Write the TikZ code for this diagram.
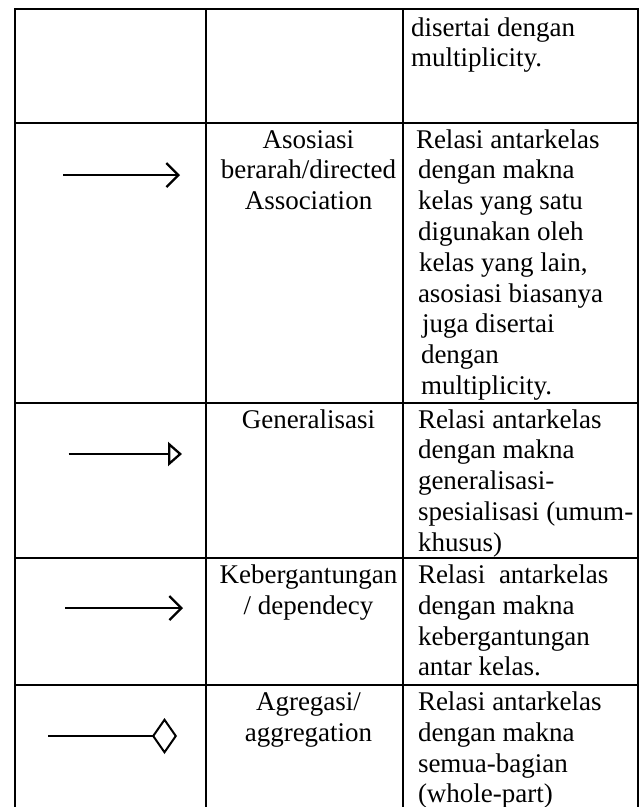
\documentclass[tikz,border=0pt]{standalone}
\usepackage{fontspec}
\setmainfont{Liberation Serif}
\usetikzlibrary{arrows.meta}
\begin{document}
\begin{tikzpicture}[x=1pt,y=-1pt,
  grid/.style={line width=2.3pt, line cap=rect},
  txt/.style={font=\fontsize{27}{30.8}\selectfont, inner sep=0pt, outer sep=0pt},
  conn/.style={line width=2.3pt},
  assochead/.style={-{Straight Barb[length=12pt,width=24pt]}},
  genhead/.style={-{Triangle[open,length=14pt,width=24pt,fill=white]}},
  agghead/.style={-{Diamond[open,length=25pt,width=36pt,fill=white]}}]
\useasboundingbox (0,0) rectangle (641,807);
\fill[white] (0,0) rectangle (641,807);
% table grid
\foreach \y in {9,122.7,402.7,558,685} \draw[grid] (15,\y) -- (638,\y);
\foreach \x in {15,205.7,402.7,638} \draw[grid] (\x,9) -- (\x,807);
% column 3 texts
\foreach \x/\t [count=\i from 0] in {411/disertai dengan, 411/multiplicity.}
  \node[txt, anchor=base west] (ra-\i) at (\x,{36+30.8*\i}) {\t};
\foreach \x/\t [count=\i from 0] in {416/Relasi antarkelas, 418/dengan makna, 418/kelas yang satu, 418/digunakan oleh, {419/kelas yang lain,}, 418/asosiasi biasanya, 422/juga disertai, 421/dengan, 421/multiplicity.}
  \node[txt, anchor=base west] (rb-\i) at (\x,{148+30.8*\i}) {\t};
\foreach \t [count=\i from 0] in {Relasi antarkelas, dengan makna, generalisasi-, spesialisasi (umum-, khusus)}
  \node[txt, anchor=base west] (rc-\i) at (418,{428+30.8*\i}) {\t};
\foreach \t [count=\i from 0] in {Relasi\ \ antarkelas, dengan makna, kebergantungan, antar kelas.}
  \node[txt, anchor=base west] (rd-\i) at (418,{583.5+30.8*\i}) {\t};
\foreach \t [count=\i from 0] in {Relasi antarkelas, dengan makna, semua-bagian, (whole-part)}
  \node[txt, anchor=base west] (re-\i) at (418,{710.5+30.8*\i}) {\t};
% column 2 texts
\foreach \t [count=\i from 0] in {Asosiasi, berarah/directed, Association}
  \node[txt, anchor=base] (nb-\i) at (308.5,{148+30.8*\i}) {\t};
\node[txt, anchor=base] (nc-0) at (308.5,428) {Generalisasi};
\foreach \t [count=\i from 0] in {Kebergantungan, / dependecy}
  \node[txt, anchor=base] (nd-\i) at (308.5,{583.5+30.8*\i}) {\t};
\foreach \t [count=\i from 0] in {Agregasi/, aggregation}
  \node[txt, anchor=base] (ne-\i) at (308.5,{710.5+30.8*\i}) {\t};
% column 1 symbols
\coordinate (sb) at (63.4,175);  \coordinate (eb) at (180,175);
\coordinate (sc) at (68.7,454);  \coordinate (ec) at (182,454);
\coordinate (sd) at (65.4,608);  \coordinate (ed) at (183,608);
\coordinate (se) at (48.3,736);  \coordinate (ee) at (177,736);
\draw[conn, assochead] (sb) -- (eb);
\draw[conn, genhead] (sc) -- (ec);
\draw[conn, assochead] (sd) -- (ed);
\draw[conn, line width=2pt, agghead] (se) -- (ee);
\end{tikzpicture}
\end{document}
